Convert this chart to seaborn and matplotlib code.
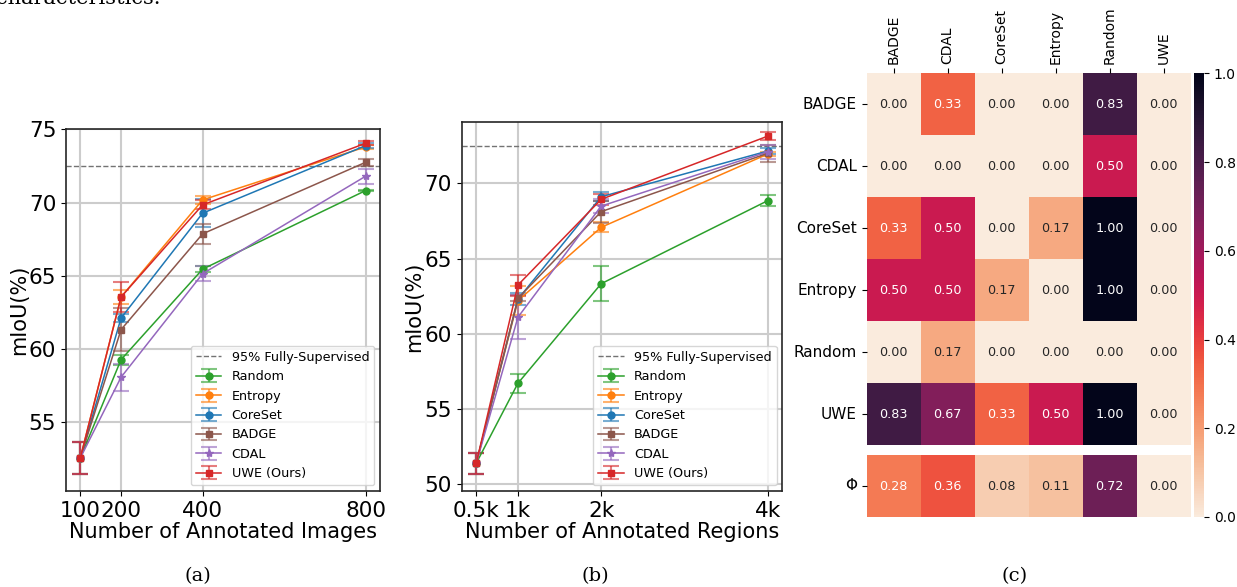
import numpy as np
import pandas as pd
import matplotlib
matplotlib.use("Agg")
import matplotlib.pyplot as plt
import seaborn as sns

# ---------------- data ----------------
methods = ["Random", "Entropy", "CoreSet", "BADGE", "CDAL", "UWE (Ours)"]
colors = ["tab:green", "tab:orange", "tab:blue", "tab:brown", "tab:purple", "tab:red"]
markers = ["o", "o", "o", "s", "*", "s"]

img_x = [100, 200, 400, 800]
img_x_labels = ["100", "200", "400", "800"]
img_random = [52.55, 59.27, 65.45, 70.82]
img_entropy = [52.55, 63.55, 70.18, 73.80]
img_coreset = [52.55, 62.11, 69.27, 73.89]
img_badge = [52.55, 61.32, 67.86, 72.75]
img_cdal = [52.55, 58.07, 65.14, 71.80]
img_uwe = [52.55, 63.55, 69.84, 74.05]
img_random_err = [1.08, 0.35, 0.20, 0.06]
img_entropy_err = [1.08, 0.50, 0.25, 0.12]
img_coreset_err = [1.08, 0.30, 0.95, 0.15]
img_badge_err = [1.08, 1.45, 0.70, 0.25]
img_cdal_err = [1.08, 0.93, 0.50, 0.52]
img_uwe_err = [1.08, 1.05, 0.30, 0.15]

reg_x = [500, 1000, 2000, 4000]
reg_x_labels = ["0.5k", "1k", "2k", "4k"]
reg_random = [51.40, 56.71, 63.33, 68.85]
reg_entropy = [51.40, 62.20, 67.08, 71.95]
reg_coreset = [51.40, 62.30, 69.11, 72.15]
reg_badge = [51.40, 62.35, 68.12, 72.00]
reg_cdal = [51.40, 61.10, 68.49, 72.10]
reg_uwe = [51.40, 63.24, 68.94, 73.14]
reg_random_err = [0.70, 0.63, 1.16, 0.35]
reg_entropy_err = [0.70, 0.95, 0.32, 0.12]
reg_coreset_err = [0.70, 0.40, 0.30, 0.20]
reg_badge_err = [0.70, 0.20, 0.74, 0.55]
reg_cdal_err = [0.70, 1.45, 0.45, 0.45]
reg_uwe_err = [0.70, 0.70, 0.35, 0.27]

fully_sup_95 = 72.5

hm_rows = ["BADGE", "CDAL", "CoreSet", "Entropy", "Random", "UWE"]
hm_cols = ["BADGE", "CDAL", "CoreSet", "Entropy", "Random", "UWE"]
hm_badge = [0.00, 0.33, 0.00, 0.00, 0.83, 0.00]
hm_cdal = [0.00, 0.00, 0.00, 0.00, 0.50, 0.00]
hm_coreset = [0.33, 0.50, 0.00, 0.17, 1.00, 0.00]
hm_entropy = [0.50, 0.50, 0.17, 0.00, 1.00, 0.00]
hm_random = [0.00, 0.17, 0.00, 0.00, 0.00, 0.00]
hm_uwe = [0.83, 0.67, 0.33, 0.50, 1.00, 0.00]
phi_label = ["Φ"]
phi_values = [0.28, 0.36, 0.08, 0.11, 0.72, 0.00]

# ---------------- figure ----------------
W, H = 1237, 587
fig = plt.figure(figsize=(W / 100, H / 100), dpi=100)


def px_axes(left, top, right, bottom):
    return fig.add_axes([left / W, 1 - bottom / H, (right - left) / W, (bottom - top) / H])


ax_a = px_axes(66, 129.3, 380, 491)
ax_b = px_axes(461.7, 121.7, 782.3, 491)
ax_h = px_axes(866.7, 73.3, 1190.7, 445)
ax_p = px_axes(866.7, 455, 1190.7, 517)
cax = px_axes(1194, 73.3, 1204, 517)


def line_panel(ax, xs, ys_list, errs_list, xlabels, xlabel, ylim):
    ax.axhline(fully_sup_95, color="0.45", linestyle="--", linewidth=1.0,
               label="95% Fully-Supervised", zorder=1)
    for name, c, m, ys, es in zip(methods, colors, markers, ys_list, errs_list):
        ax.errorbar(xs, ys, yerr=es, color=c, marker=m, markersize=5 if m != "*" else 6,
                    linewidth=1.1, capsize=6, capthick=1.5, elinewidth=1.5,
                    ecolor=matplotlib.colors.to_rgba(c, 0.6), label=name, zorder=3)
    ax.set_xticks(xs)
    ax.set_xticklabels(xlabels)
    ax.set_xlim(xs[0] - 0.05 * (xs[-1] - xs[0]), xs[-1] + 0.05 * (xs[-1] - xs[0]))
    ax.set_ylim(*ylim)
    ax.grid(True, color="0.8", linewidth=1.5, zorder=0)
    ax.set_axisbelow(True)
    ax.tick_params(labelsize=15.5)
    ax.set_xlabel(xlabel, fontsize=15, labelpad=1)
    ax.set_ylabel("mIoU(%)", fontsize=15, labelpad=0)
    for s in ax.spines.values():
        s.set_color("0.15")
        s.set_linewidth(1.2)
    ax.legend(loc="lower right", fontsize=9.2, framealpha=0.8, borderaxespad=0.45)


line_panel(ax_a, img_x,
           [img_random, img_entropy, img_coreset, img_badge, img_cdal, img_uwe],
           [img_random_err, img_entropy_err, img_coreset_err, img_badge_err, img_cdal_err, img_uwe_err],
           img_x_labels, "Number of Annotated Images", (50.3, 75.0))
ax_a.set_yticks([55, 60, 65, 70, 75])

line_panel(ax_b, reg_x,
           [reg_random, reg_entropy, reg_coreset, reg_badge, reg_cdal, reg_uwe],
           [reg_random_err, reg_entropy_err, reg_coreset_err, reg_badge_err, reg_cdal_err, reg_uwe_err],
           reg_x_labels, "Number of Annotated Regions", (49.55, 74.1))
ax_b.set_yticks([50, 55, 60, 65, 70])

# ---------------- heatmap ----------------
hm_df = pd.DataFrame([hm_badge, hm_cdal, hm_coreset, hm_entropy, hm_random, hm_uwe],
                     index=hm_rows, columns=hm_cols)
phi_df = pd.DataFrame([phi_values], index=phi_label, columns=hm_cols)

sns.heatmap(hm_df, ax=ax_h, cmap="rocket_r", vmin=0, vmax=1, annot=True, fmt=".2f",
            annot_kws={"fontsize": 9.2}, cbar=True, cbar_ax=cax)
sns.heatmap(phi_df, ax=ax_p, cmap="rocket_r", vmin=0, vmax=1, annot=True, fmt=".2f",
            annot_kws={"fontsize": 9.2}, cbar=False)

ax_h.xaxis.tick_top()
ax_h.set_xticklabels(hm_cols, rotation=90, fontsize=10)
ax_h.set_yticklabels(hm_rows, rotation=0, fontsize=11)
ax_h.set_xlabel("")
ax_h.set_ylabel("")
ax_p.set_xticks([])
ax_p.set_yticklabels(phi_label, rotation=0, fontsize=11)
ax_p.set_xlabel("")
ax_p.set_ylabel("")
cax.tick_params(labelsize=10)
cax.set_yticks([0.0, 0.2, 0.4, 0.6, 0.8, 1.0])

# ---------------- captions ----------------
cap_font = dict(family="DejaVu Serif", fontsize=14, ha="center", va="center")
fig.text(198 / W, 1 - 576 / H, "(a)", **cap_font)
fig.text(595 / W, 1 - 576 / H, "(b)", **cap_font)
fig.text(1015 / W, 1 - 576 / H, "(c)", **cap_font)
fig.text(-4 / W, 1 - 4 / H, "characteristics.", family="DejaVu Serif", fontsize=15,
         ha="left", va="baseline")

fig.savefig("out.png", dpi=100)
